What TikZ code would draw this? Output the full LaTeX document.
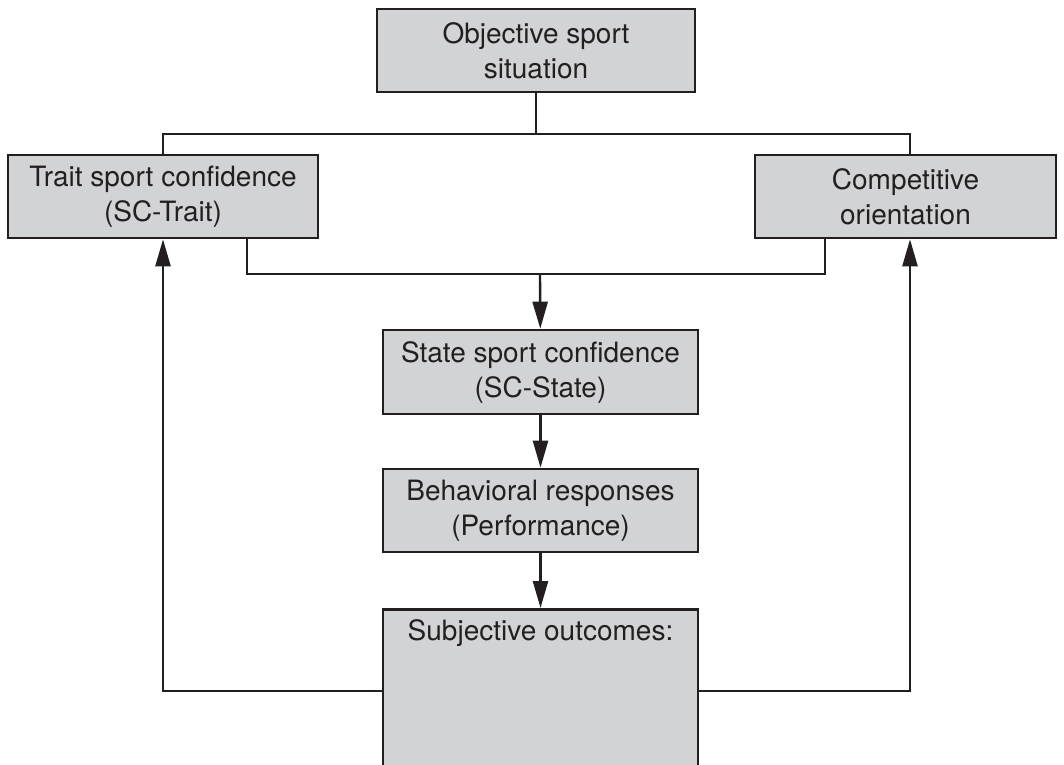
\documentclass[tikz,border=0pt]{standalone}
\usepackage{fontspec}
\setmainfont{TeX Gyre Heros}
\usetikzlibrary{arrows.meta}
\definecolor{boxgray}{HTML}{D1D3D4}
\definecolor{ink}{HTML}{231F20}
\tikzset{
	box/.style={draw=ink, fill=boxgray, line width=2.6pt, text=ink, align=center,
		inner sep=0pt, minimum width=315pt, minimum height=83pt,
		font=\fontsize{28}{35}\selectfont},
	link/.style={draw=ink, line width=2.4pt},
	arr/.style={link, -{Triangle[length=27pt,width=15pt]}}
}
\begin{document}
\begin{tikzpicture}[x=1pt,y=-1pt]
	\useasboundingbox (0,0) rectangle (1064,764);
	\clip (0,0) rectangle (1064,764);
	\node[box, minimum width=318pt] (obj) at (536,50.5) {Objective sport\\situation};
	\node[box, minimum width=310pt] (trait) at (163,196.5) {Trait sport confidence\\(SC-Trait)};
	\node[box, minimum width=301pt] (comp) at (905.5,196.5) {Competitive\\orientation};
	\node[box, minimum height=84pt] (state) at (540.5,372) {State sport confidence\\(SC-State)};
	\node[box] (behav) at (540.5,510.5) {Behavioral responses\\(Performance)};
	\node[box, anchor=north, minimum height=200pt,
		label={[anchor=north, yshift=-8pt, text=ink, font=\fontsize{28}{35}\selectfont]north:Subjective outcomes:}]
		(subj) at (540.5,608) {};
	\coordinate (top) at (540,134);
	\coordinate (mid) at (540,274);
	\coordinate (fb) at (0,691);
	% situation to both traits
	\draw[link] (obj.south) -- (obj.south |- top);
	\draw[link] (trait.north) -- (trait.north |- top) -- ([xshift=4.5pt]comp.north |- top) -- ([xshift=4.5pt]comp.north);
	% traits merge into state
	\draw[link] ([xshift=84pt]trait.south) |- (mid) -| ([xshift=-80.5pt]comp.south);
	\draw[arr] (mid) -- (state);
	\draw[arr] (state) -- (behav);
	\draw[arr] (behav) -- (subj);
	% feedback
	\draw[arr] (subj.west |- fb) -| (trait.south);
	\draw[arr] (subj.east |- fb) -| ([xshift=4.5pt]comp.south);
\end{tikzpicture}
\end{document}
